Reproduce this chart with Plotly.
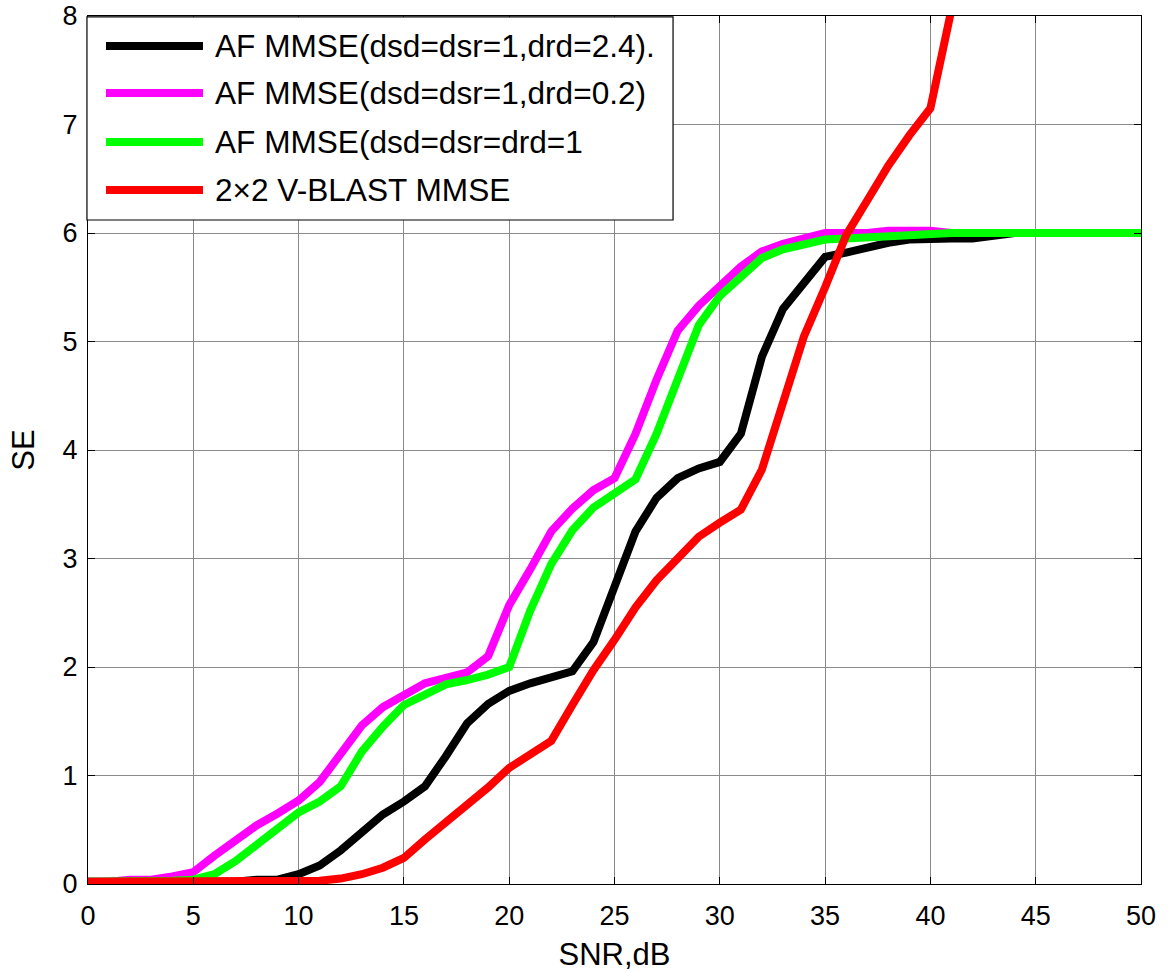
import plotly.graph_objects as go

snr = list(range(0, 51))

se_drd24 = [0.02]*8 + [0.04, 0.04, 0.09, 0.17, 0.31, 0.48, 0.64, 0.76, 0.90, 1.18,
            1.48, 1.66, 1.78, 1.85, 1.90, 1.96, 2.23, 2.75, 3.25, 3.56,
            3.74, 3.83, 3.89, 4.15, 4.86, 5.30, 5.55, 5.78, 5.82, 5.87,
            5.91, 5.94, 5.95, 5.95, 5.95, 5.97, 6.00] + [6.0]*6

se_drd02 = [0.02, 0.02, 0.04, 0.04, 0.07, 0.11, 0.26, 0.41, 0.54, 0.65,
            0.77, 0.94, 1.20, 1.46, 1.63, 1.75, 1.85, 1.90, 1.95, 2.10,
            2.57, 2.90, 3.25, 3.46, 3.63, 3.74, 4.15, 4.65, 5.10, 5.33,
            5.50, 5.69, 5.83, 5.90, 5.95, 6.00, 6.00, 6.00, 6.02, 6.02,
            6.02] + [6.0]*10

se_drd1 = [0.02, 0.02, 0.02, 0.02, 0.03, 0.04, 0.09, 0.21, 0.36, 0.51,
           0.66, 0.76, 0.90, 1.22, 1.45, 1.65, 1.75, 1.84, 1.88, 1.93,
           2.00, 2.52, 2.95, 3.26, 3.47, 3.60, 3.73, 4.15, 4.65, 5.15,
           5.42, 5.60, 5.77, 5.85, 5.90, 5.94, 5.95, 5.96, 5.97, 5.98,
           6.00] + [6.0]*10

snr_vblast = list(range(0, 42))
se_vblast = [0.02]*11 + [0.03, 0.05, 0.09, 0.15, 0.24, 0.41, 0.57, 0.72, 0.89,
             1.07, 1.20, 1.32, 1.65, 1.97, 2.25, 2.55, 2.80, 3.00, 3.20,
             3.33, 3.45, 3.82, 4.45, 5.05, 5.50, 5.98, 6.30, 6.62, 6.90,
             7.15, 8.06]

names = ["AF MMSE(dsd=dsr=1,drd=2.4).", "AF MMSE(dsd=dsr=1,drd=0.2)",
         "AF MMSE(dsd=dsr=drd=1", "2×2 V-BLAST MMSE"]
colors = ["#000000", "#ff00ff", "#00ff00", "#ff0000"]
xs = [snr, snr, snr, snr_vblast]
ys = [se_drd24, se_drd02, se_drd1, se_vblast]

x_ticks = list(range(0, 51, 5))
y_ticks = list(range(0, 9))

FONT = "Liberation Sans, Arial, Helvetica, sans-serif"

fig = go.Figure()
for x, y, n, c in zip(xs, ys, names, colors):
    fig.add_trace(go.Scatter(x=x, y=y, mode="lines", name=n,
                             line=dict(color=c, width=8), showlegend=False))

# custom MATLAB-style legend
shapes = [dict(type="rect", xref="paper", yref="paper", x0=-0.001, x1=0.5556,
               y0=0.765, y1=0.999, fillcolor="white",
               line=dict(color="black", width=1.2), layer="above")]
annotations = []
row_y = [0.9654, 0.9113, 0.8548, 0.7995]
for ry, n, c in zip(row_y, names, colors):
    shapes.append(dict(type="line", xref="paper", yref="paper", x0=0.0171, x1=0.1092,
                       y0=ry, y1=ry, line=dict(color=c, width=8), layer="above"))
    annotations.append(dict(xref="paper", yref="paper", x=0.1187, y=ry, text=n,
                            showarrow=False, xanchor="left", yanchor="middle",
                            font=dict(family=FONT, size=31.6, color="black")))

fig.update_layout(
    width=1170, height=972,
    margin=dict(l=88, r=29, t=16, b=88, autoexpand=False),
    paper_bgcolor="white", plot_bgcolor="white",
    font=dict(family=FONT, color="black"),
    shapes=shapes, annotations=annotations,
    showlegend=False,
)
fig.update_xaxes(range=[0, 50], tickvals=x_ticks, ticks="inside", ticklen=7,
                 tickcolor="black", showline=True, linecolor="black", linewidth=1,
                 mirror="allticks", showgrid=True, gridcolor="#8a8a8a", gridwidth=1,
                 zeroline=False, tickfont=dict(size=27), ticklabelstandoff=8,
                 automargin=False,
                 title=dict(text="SNR,dB", font=dict(size=31), standoff=14))
fig.update_yaxes(range=[0, 8], tickvals=y_ticks, ticks="inside", ticklen=7,
                 tickcolor="black", showline=True, linecolor="black", linewidth=1,
                 mirror="allticks", showgrid=True, gridcolor="#8a8a8a", gridwidth=1,
                 zeroline=False, tickfont=dict(size=27), ticklabelstandoff=4,
                 automargin=False,
                 title=dict(text="SE", font=dict(size=31), standoff=18))

fig.write_html("out.html")
